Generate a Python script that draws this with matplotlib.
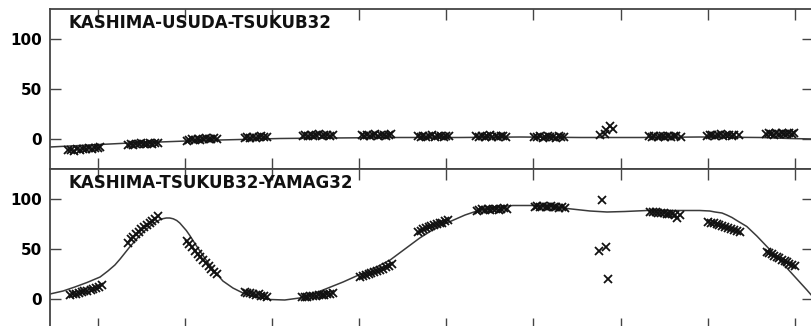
import matplotlib.pyplot as plt
import numpy as np

# time axis in hours (ticks every 2 h, no labels)
titles = ["KASHIMA-USUDA-TSUKUB32", "KASHIMA-TSUKUB32-YAMAG32"]

# ---- top baseline: observed points ----
top_t = [-0.69, -0.62, -0.55, -0.48, -0.41, -0.34, -0.27, -0.20, -0.13, -0.06, 0.01, 0.05,
         0.69, 0.75, 0.81, 0.88, 0.94, 1.00, 1.06, 1.13, 1.19, 1.25, 1.31, 1.38,
         2.04, 2.10, 2.16, 2.23, 2.29, 2.35, 2.41, 2.48, 2.54, 2.60, 2.66, 2.73,
         3.37, 3.43, 3.50, 3.56, 3.62, 3.69, 3.75, 3.81, 3.88,
         4.70, 4.76, 4.82, 4.89, 4.95, 5.01, 5.07, 5.14, 5.20, 5.26, 5.32, 5.39,
         6.06, 6.12, 6.18, 6.25, 6.31, 6.37, 6.43, 6.50, 6.56, 6.62, 6.68, 6.74,
         7.34, 7.41, 7.47, 7.54, 7.61, 7.67, 7.74, 7.81, 7.87, 7.94, 8.00, 8.07,
         8.69, 8.75, 8.81, 8.88, 8.94, 9.00, 9.06, 9.13, 9.19, 9.25, 9.31, 9.38,
         10.02, 10.08, 10.14, 10.21, 10.27, 10.33, 10.39, 10.46, 10.52, 10.58, 10.64, 10.71,
         11.53, 11.64, 11.66, 11.76, 11.83,
         12.66, 12.72, 12.78, 12.85, 12.91, 12.97, 13.03, 13.10, 13.16, 13.22, 13.28, 13.39,
         13.99, 14.05, 14.11, 14.18, 14.24, 14.30, 14.36, 14.43, 14.49, 14.55, 14.61, 14.72,
         15.34, 15.40, 15.46, 15.52, 15.58, 15.64, 15.70, 15.76, 15.82, 15.88, 15.94, 15.99]
top_v = [-11, -10.5, -11.5, -10, -10.5, -9.5, -10, -9, -9.5, -8.5, -9, -8,
         -5.5, -5, -6, -4.5, -5, -4, -5, -4.5, -3.5, -4.5, -4, -3.5,
         -1.5, -1, 0, -0.5, 0.5, -1, 0, 1, 0.5, 0, 1, 0.5,
         1, 2, 1.5, 2.5, 1, 2, 3, 2, 2.5,
         3, 4, 3.5, 4.5, 3, 4, 5, 3.5, 4, 4.5, 3, 4,
         4, 3.5, 4.5, 3, 4, 5, 3.5, 4, 4.5, 3, 4, 5,
         3, 2.5, 3.5, 2, 3, 4, 2.5, 3, 3.5, 2, 3, 3.5,
         3, 2, 3.5, 2.5, 3, 4, 2.5, 3, 2, 3.5, 3, 2.5,
         2.5, 2, 3, 1.5, 2.5, 3, 2, 2.5, 1.5, 3, 2, 2.5,
         4, 5, 9, 13, 10,
         3, 2.5, 3.5, 2, 3, 3.5, 2.5, 3, 2, 3.5, 3, 2.5,
         3.5, 4, 4.5, 3, 4, 5, 3.5, 4, 4.5, 3, 4, 4.5,
         5, 6, 5.5, 4.5, 6, 5, 6.5, 5.5, 5, 6, 5.5, 6]

# ---- top baseline: model curve ----
top_ct = [-1.10, -0.41, 0.05, 0.73, 1.42, 2.34, 3.26, 4.18, 5.33, 6.93, 8.31,
          9.69, 11.07, 12.45, 13.82, 15.20, 15.89, 16.42]
top_cv = [-8, -6.5, -5.5, -4, -3, -1.5, -0.5, 0.5, 1, 1.5, 1.5,
          2, 1.5, 1.5, 2, 1.5, 0.5, 0]

# ---- bottom baseline: observed points ----
bot_t = [-0.64, -0.57, -0.51, -0.44, -0.37, -0.31, -0.24, -0.17, -0.11, -0.04, 0.03, 0.09,
         0.69, 0.75, 0.81, 0.88, 0.94, 1.00, 1.06, 1.13, 1.19, 1.25, 1.31, 1.38,
         2.04, 2.10, 2.16, 2.23, 2.29, 2.35, 2.41, 2.48, 2.54, 2.60, 2.66, 2.73,
         3.37, 3.43, 3.50, 3.56, 3.62, 3.69, 3.75, 3.81, 3.88,
         4.68, 4.75, 4.81, 4.88, 4.94, 5.01, 5.07, 5.14, 5.20, 5.27, 5.33, 5.40,
         6.02, 6.09, 6.15, 6.22, 6.28, 6.35, 6.42, 6.48, 6.55, 6.62, 6.68, 6.75,
         7.35, 7.41, 7.47, 7.54, 7.60, 7.66, 7.72, 7.79, 7.85, 7.91, 7.98, 8.04,
         8.70, 8.76, 8.82, 8.89, 8.95, 9.01, 9.07, 9.14, 9.20, 9.26, 9.32, 9.39,
         10.03, 10.09, 10.15, 10.22, 10.28, 10.34, 10.40, 10.47, 10.53, 10.59, 10.65, 10.72,
         11.57, 11.50, 11.66, 11.71,
         12.68, 12.74, 12.81, 12.87, 12.93, 13.00, 13.06, 13.12, 13.18, 13.25, 13.36, 13.30,
         14.01, 14.08, 14.14, 14.21, 14.27, 14.34, 14.41, 14.47, 14.54, 14.60, 14.67, 14.74,
         15.36, 15.42, 15.48, 15.53, 15.59, 15.65, 15.71, 15.77, 15.83, 15.88, 15.94, 16.00]
bot_v = [4, 5.5, 5, 6.5, 7, 8, 8, 9.5, 10, 11, 12.5, 14.5,
         56, 60, 62, 65, 67, 70, 72, 74, 76, 78, 80, 83,
         58, 55, 52, 48, 45, 42, 39, 36, 33, 30, 27, 25,
         7, 6, 6.5, 5, 4.5, 5, 3.5, 3, 2.5,
         2, 2.5, 2, 3, 3.5, 3, 4, 4.5, 4, 5, 5.5, 6,
         22, 23, 24.5, 25, 26.5, 27, 28.5, 29, 30.5, 32, 33, 35,
         67, 68.5, 70, 71, 72, 73, 74, 75, 76, 76.5, 78, 79,
         88.5, 89, 90, 89.5, 90, 89, 90.5, 90, 89.5, 90, 91, 90,
         92, 93, 92.5, 93, 92, 92.5, 93, 92, 92.5, 91.5, 92, 91.5,
         99, 48, 52, 20,
         87.5, 87, 87.5, 86.5, 86, 86.5, 85.5, 85, 85.5, 84.5, 84, 81.5,
         77.5, 76.5, 76, 75, 74, 73.5, 72, 71.5, 70, 69, 68, 67,
         47.5, 46, 45, 43.5, 42, 41, 39.5, 38, 37, 35.5, 34, 33]

# ---- bottom baseline: model curve ----
bot_ct = [-1.10, -0.80, -0.53, -0.25, 0.05, 0.23, 0.39, 0.51, 0.62, 0.73, 0.85, 0.96,
          1.08, 1.19, 1.28, 1.35, 1.42, 1.49, 1.57, 1.65, 1.73, 1.81, 1.88, 1.95,
          2.03, 2.11, 2.22, 2.34, 2.50, 2.69, 2.87, 3.10, 3.33, 3.61, 3.95, 4.29,
          4.63, 4.90, 5.17, 5.63, 6.09, 6.40, 6.71, 7.05, 7.39, 7.70, 8.01, 8.43,
          8.77, 9.15, 9.53, 10.38, 10.77, 11.30, 11.69, 12.10, 12.61, 13.82, 14.05,
          14.17, 14.33, 14.44, 14.56, 14.67, 14.90, 15.13, 15.36, 15.59, 15.82,
          16.05, 16.28, 16.42]
bot_cv = [5, 8, 12, 16.5, 22, 28, 34, 40, 46, 52, 58, 63.5,
          68.5, 72.5, 75.5, 77.5, 79.2, 80.3, 81, 81, 80.2, 78.5, 76, 72.5,
          68.5, 63.5, 56, 48, 38, 27, 18, 11, 6, 2, -0.5, -1,
          1, 4.5, 9, 17, 26, 32, 39, 50, 61, 69.5, 76, 84,
          89, 92, 93.5, 93.5, 90.5, 88, 87, 87.5, 88.5, 88.5, 88,
          87, 86, 84, 81.5, 78.5, 72.5, 63, 52.5, 42, 31,
          20, 9, 2]

panels = [(top_t, top_v, top_ct, top_cv), (bot_t, bot_v, bot_ct, bot_cv)]

fig = plt.figure(figsize=(8.12, 3.26), dpi=100)
W, H = 812.0, 326.0
# axes boxes in pixels: left, top, right, bottom
boxes = [(50, 9, 813, 169), (50, 169, 813, 329)]

for (t, v, ct, cv), title, (l, tp, r, b) in zip(panels, titles, boxes):
    ax = fig.add_axes([l / W, 1 - b / H, (r - l) / W, (b - tp) / H])
    ax.plot(ct, cv, color='#3a3a3a', lw=1.1, zorder=2)
    ax.plot(t, v, ls='none', marker='x', ms=6, mew=1.3, color='#111111', zorder=3)
    ax.set_xlim(-1.10, 16.42)
    ax.set_ylim(-30, 130)
    ax.set_xticks(np.arange(0, 17, 2))
    ax.set_yticks([0, 50, 100])
    ax.tick_params(direction='in', length=8, width=1.0, color='#444444',
                   top=True, right=True, labelbottom=False, pad=6)
    for lab in ax.get_yticklabels():
        lab.set_fontweight('bold')
        lab.set_fontsize(11)
    for s in ax.spines.values():
        s.set_color('#444444')
        s.set_linewidth(1.3)
    ax.text(0.0236, 111, title, transform=ax.get_yaxis_transform(),
            fontsize=12, fontweight='bold', va='baseline', ha='left', color='#111111')

fig.savefig("out.png", dpi=100)
